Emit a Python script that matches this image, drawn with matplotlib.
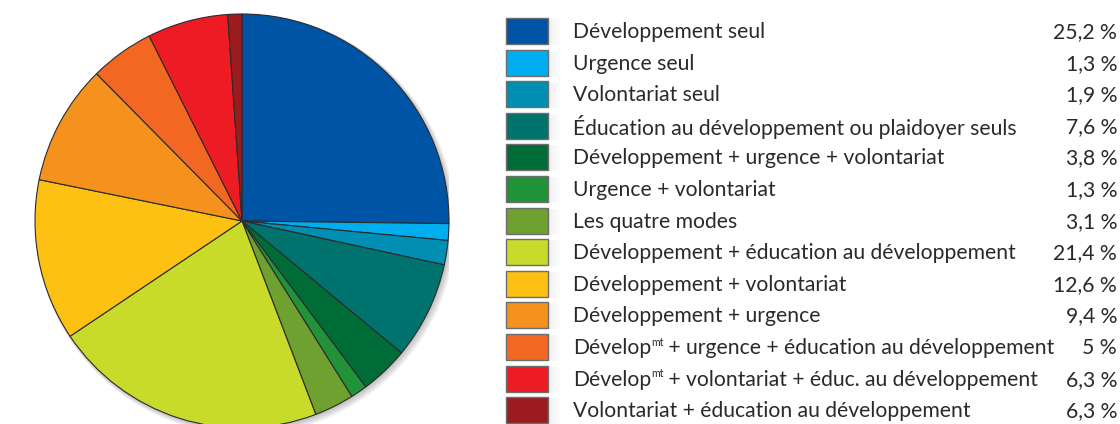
import matplotlib
matplotlib.use('Agg')
import matplotlib.pyplot as plt
from matplotlib.patches import Rectangle, Circle

# Categories, as printed in the legend ("mt" parts are drawn as superscript)
labels = [
    ("Développement seul", None, None),
    ("Urgence seul", None, None),
    ("Volontariat seul", None, None),
    ("Éducation au développement ou plaidoyer seuls", None, None),
    ("Développement + urgence + volontariat", None, None),
    ("Urgence + volontariat", None, None),
    ("Les quatre modes", None, None),
    ("Développement + éducation au développement", None, None),
    ("Développement + volontariat", None, None),
    ("Développement + urgence", None, None),
    ("Dévelop", "mt", " + urgence + éducation au développement"),
    ("Dévelop", "mt", " + volontariat + éduc. au développement"),
    ("Volontariat + éducation au développement", None, None),
]

# Percentages printed in the legend
legend_pct = [25.2, 1.3, 1.9, 7.6, 3.8, 1.3, 3.1, 21.4, 12.6, 9.4, 5, 6.3, 6.3]

# Slice sizes as drawn in the pie (last slice is visibly ~1 %)
slice_pct = [25.2, 1.3, 1.9, 7.6, 3.8, 1.3, 3.1, 21.4, 12.6, 9.4, 5, 6.3, 1.1]

colors = [
    "#0054A6", "#00AEEF", "#008FB3", "#00736F", "#006D38", "#229239",
    "#6EA12F", "#C9DB2A", "#FDC113", "#F5921E", "#F26722", "#ED1C24",
    "#9B1B1F",
]

plt.rcParams['font.family'] = ['Lato', 'DejaVu Sans']

W, H = 1120, 424
FS = 15.2
TXT = '#2a2a2a'
fig = plt.figure(figsize=(W / 100, H / 100), dpi=100)

# Pie placed in pixel coordinates: centre (242, 221 from top), radius 207
cx, cy, r = 242, 221, 207
ax = fig.add_axes([(cx - r) / W, (H - cy - r) / H, 2 * r / W, 2 * r / H])

# soft shadow lower right
for i in range(5):
    off = 0.006 * (i + 1)
    ax.add_patch(Circle((off * 0.6, -off * 0.6), 1.0 + off * 0.5,
                        color='#000000', alpha=0.05, lw=0, zorder=0))

wedges, _ = ax.pie(slice_pct, colors=colors, startangle=90, counterclock=False,
                   radius=1.0, wedgeprops=dict(edgecolor='#2b2b2b', linewidth=0.8))
for w in wedges:
    w.set_zorder(2)
ax.set_xlim(-1, 1)
ax.set_ylim(-1, 1)
ax.set_aspect('equal')
ax.axis('off')

# Legend drawn in figure pixel space
lg = fig.add_axes([0, 0, 1, 1], zorder=5)
lg.set_xlim(0, W)
lg.set_ylim(H, 0)
lg.axis('off')

renderer = fig.canvas.get_renderer()

row0, step = 31, 31.6
for i, ((head, sup, tail), pct, col) in enumerate(zip(labels, legend_pct, colors)):
    y = row0 + i * step
    # square shadow to the right
    for k in range(6):
        lg.add_patch(Rectangle((548 + k * 2, y - 12), 2, 26, color='#000000',
                               alpha=0.06 * (6 - k) / 6, lw=0))
    lg.add_patch(Rectangle((506, y - 13), 42, 26, facecolor=col,
                           edgecolor='#6d6d6d', linewidth=1.0))
    t = lg.text(573, y + 1, head, fontsize=FS, color=TXT, va='center', ha='left')
    if sup:
        x = t.get_window_extent(renderer).x1 + 0.5
        s = lg.text(x, y - 5, sup, fontsize=FS * 0.5, color=TXT, va='center', ha='left')
        x = s.get_window_extent(renderer).x1 - 1.5
        lg.text(x, y + 1, tail, fontsize=FS, color=TXT, va='center', ha='left')
    txt = f"{pct:g}".replace('.', ',') + " %"
    lg.text(1117, y + 1, txt, fontsize=FS, color=TXT, va='center', ha='right')

fig.savefig('out.png', dpi=100)
